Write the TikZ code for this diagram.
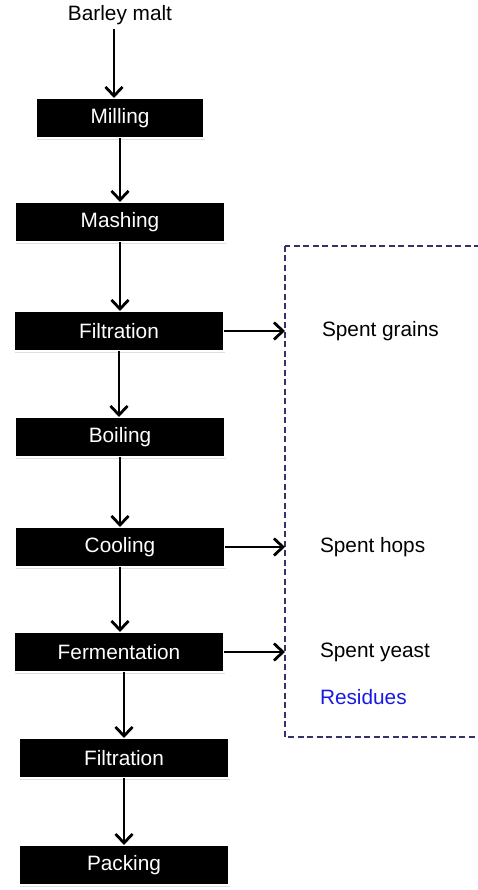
\documentclass[tikz,border=0pt]{standalone}
\usepackage{fontspec}
\setmainfont{Liberation Sans}
\usetikzlibrary{arrows.meta,shadows}
\definecolor{dashnavy}{rgb}{0.2,0.2,0.42}
\definecolor{resblue}{rgb}{0.1,0.1,0.9}
\tikzset{
  stepbox/.style={rectangle, fill=black, draw=white, line width=2pt, text=white,
    minimum width=210pt, minimum height=40pt, inner sep=0pt, outer sep=0pt,
    font=\fontsize{20.8}{24}\selectfont,
    drop shadow={opacity=0.25, shadow xshift=0.5pt, shadow yshift=-2pt}},
  plain/.style={font=\fontsize{20.8}{24}\selectfont, inner sep=0pt, outer sep=0pt},
  arr/.style={line width=2.8pt, -{Straight Barb[length=9pt,width=17pt,line width=2.8pt]}},
  dbox/.style={draw=dashnavy, line width=1.5pt, dash pattern=on 6pt off 3.5pt}
}
\begin{document}
\begin{tikzpicture}[x=1pt,y=-1pt]
\useasboundingbox (0,0) rectangle (477,890);
\node[plain] (barley) at (120,15) {Barley malt};
\node[stepbox, minimum width=168pt] (milling) at (120,118) {Milling};
\node[stepbox] (mashing) at (120,222) {Mashing};
\node[stepbox] (filt1) at (119,331) {Filtration};
\node[stepbox] (boiling) at (120,437) {Boiling};
\node[stepbox] (cooling) at (120,547) {Cooling};
\node[stepbox] (ferment) at (119,652) {Fermentation};
\node[stepbox] (filt2) at (124,758) {Filtration};
\node[stepbox] (packing) at (124,865) {Packing};

\coordinate (dbTL) at (285,246);
\coordinate (dbBR) at (490,737);
\draw[dbox] (dbTL) rectangle (dbBR);

\node[plain, anchor=west] (grains) at (322,331) {Spent grains};
\node[plain, anchor=west] (hops) at (320,547) {Spent hops};
\node[plain, anchor=west] (yeast) at (320,652) {Spent yeast};
\node[plain, anchor=west, text=resblue] (resid) at (320,697) {Residues};

\draw[arr] ([xshift=-6pt,yshift=-4pt]barley.south) -- ([xshift=-6pt]milling.north);
\draw[arr] (milling.south) -- (mashing.north);
\draw[arr] (mashing.south) -- (filt1.north -| mashing.south);
\draw[arr] (filt1.south) -- (boiling.north -| filt1.south);
\draw[arr] (boiling.south) -- (cooling.north);
\draw[arr] (cooling.south) -- (ferment.north -| cooling.south);
\draw[arr] (filt2.north |- ferment.south) -- (filt2.north);
\draw[arr] (filt2.south) -- (packing.north);

\draw[arr] (filt1.east) -- (filt1.east -| dbTL);
\draw[arr] (cooling.east) -- (cooling.east -| dbTL);
\draw[arr] (ferment.east) -- (ferment.east -| dbTL);
\end{tikzpicture}
\end{document}
